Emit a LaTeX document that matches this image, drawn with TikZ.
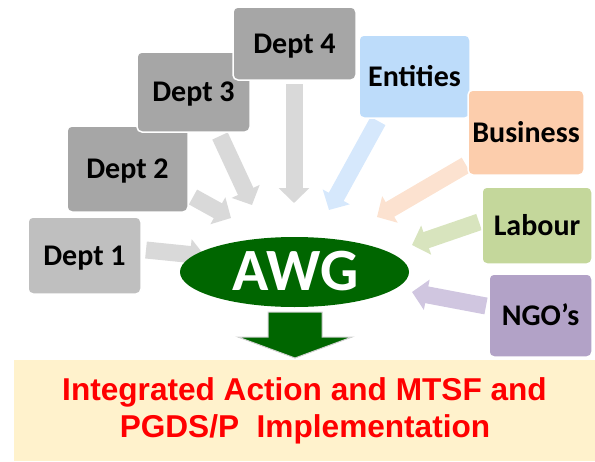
\documentclass[tikz,border=0pt]{standalone}
\usepackage{fontspec}
\setmainfont{Carlito}
\newfontfamily\arialfont{Liberation Sans}
\usetikzlibrary{arrows.meta,shapes.geometric}
\definecolor{deptA}{RGB}{191,191,191}
\definecolor{deptB}{RGB}{166,166,166}
\definecolor{entbox}{RGB}{189,220,250}
\definecolor{busbox}{RGB}{252,205,172}
\definecolor{labbox}{RGB}{196,215,155}
\definecolor{ngobox}{RGB}{178,162,199}
\definecolor{grayarr}{RGB}{217,217,217}
\definecolor{entarr}{RGB}{214,232,252}
\definecolor{busarr}{RGB}{252,226,208}
\definecolor{labarr}{RGB}{216,228,190}
\definecolor{ngoarr}{RGB}{208,198,224}
\definecolor{awggreen}{RGB}{0,102,0}
\definecolor{resbox}{RGB}{255,242,204}
\definecolor{restext}{RGB}{255,0,0}
\begin{document}
\begin{tikzpicture}[x=1pt,y=-1pt,
  boxnode/.style={draw=white, line width=1.5pt, rounded corners=5pt, inner sep=0pt,
    font=\bfseries\fontsize{30}{34}\selectfont, text height=19pt, text depth=0pt},
  blockarrow/.style={line width=17pt, -{Triangle[length=15pt,width=30pt]}}]
\useasboundingbox (0,0) rectangle (595,461);
% arrow end points
\coordinate (a1s) at (146,250);  \coordinate (a1e) at (205,256);
\coordinate (a2s) at (193,197);  \coordinate (a2e) at (231,218);
\coordinate (a3s) at (220,136);  \coordinate (a3e) at (252,205);
\coordinate (a4s) at (294,84);   \coordinate (a4e) at (294,203);
\coordinate (a5s) at (378,121);  \coordinate (a5e) at (329,210);
\coordinate (a6s) at (466,165);  \coordinate (a6e) at (377,217);
\coordinate (a7s) at (479,222);  \coordinate (a7e) at (412,245);
\coordinate (a8s) at (486,306);  \coordinate (a8e) at (412,292);
\draw[blockarrow, grayarr] (a1s) -- (a1e);
\draw[blockarrow, grayarr] (a2s) -- (a2e);
\draw[blockarrow, grayarr] (a3s) -- (a3e);
\draw[blockarrow, grayarr] (a4s) -- (a4e);
\draw[blockarrow, entarr] (a5s) -- (a5e);
\draw[blockarrow, busarr] (a6s) -- (a6e);
\draw[blockarrow, labarr] (a7s) -- (a7e);
\draw[blockarrow, ngoarr] (a8s) -- (a8e);
% boxes
\node[boxnode, fill=deptA, minimum width=113pt, minimum height=77pt] (d1) at (84.5,255.5) {Dept 1};
\node[boxnode, fill=deptB, minimum width=121pt, minimum height=86pt] (d2) at (127.5,169) {Dept 2};
\node[boxnode, fill=deptB, minimum width=113pt, minimum height=80pt] (d3) at (193.5,92) {Dept 3};
\node[boxnode, fill=deptB, minimum width=123pt, minimum height=73pt] (d4) at (294.5,43.5) {Dept 4};
\node[boxnode, fill=entbox, minimum width=111pt, minimum height=83pt] (ent) at (414.5,76.5) {Entities};
\node[boxnode, fill=busbox, minimum width=116pt, minimum height=85pt] (bus) at (526,132.5) {Business};
\node[boxnode, fill=labbox, minimum width=110pt, minimum height=77pt] (lab) at (537,225.5) {Labour};
\node[boxnode, fill=ngobox, minimum width=103pt, minimum height=83pt] (ngo) at (540.5,315.5) {NGO’s};
% AWG
\node[ellipse, fill=awggreen, minimum width=229pt, minimum height=70pt, inner sep=0pt] (awg) at (294.5,272) {};
\node[text=white, font=\bfseries\fontsize{60}{60}\selectfont, anchor=base] (awgt) at (295.5,290) {AWG};
% result box
\node[fill=resbox, minimum width=581pt, minimum height=101pt, inner sep=0pt, anchor=north west] (res) at (14,360) {};
% green down arrow
\filldraw[fill=awggreen, draw=black!18, line width=1pt]
  (268,312) -- (322,312) -- (322,337) -- (352,337) -- (295,358) -- (238,337) -- (268,337) -- cycle;
\node[text=restext, font=\arialfont\bfseries\fontsize{31.6}{37}\selectfont, align=center, anchor=base] (rt1) at (304.5,400) {Integrated Action and MTSF and};
\node[text=restext, font=\arialfont\bfseries\fontsize{31.6}{37}\selectfont, align=center, anchor=base] (rt2) at (305,437) {PGDS/P\ \ Implementation};
\end{tikzpicture}
\end{document}
